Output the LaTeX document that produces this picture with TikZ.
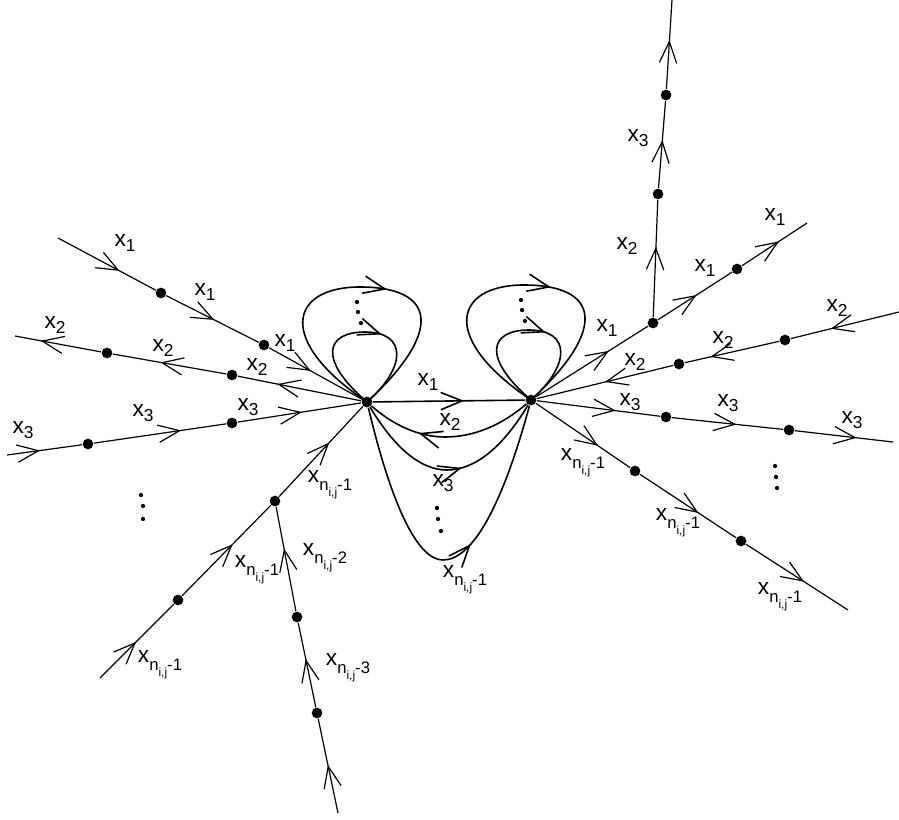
\documentclass[tikz,border=0pt]{standalone}
\usepackage{fontspec}
\setmainfont{Liberation Sans}
\usepackage{tikz}
\usetikzlibrary{arrows.meta,decorations.markings}

\newcommand{\xs}[1]{x\raisebox{-3.3pt}{\fontsize{13}{15}\selectfont #1}}
\newcommand{\xn}[1]{x\raisebox{-6pt}{\fontsize{12.5}{15}\selectfont
  n\raisebox{-4.5pt}{\fontsize{9}{10}\selectfont i,j}-#1}}

\tikzset{
 barb/.tip={Straight Barb[length=16pt,width=13pt]},
 vdot/.style={circle,fill,inner sep=0pt,minimum size=8pt},
 smalldot/.style={circle,fill,inner sep=0pt,minimum size=3.2pt},
 lab/.style={font=\fontsize{17}{20}\selectfont,inner sep=1pt},
 flow/.style={postaction={decorate},
   decoration={markings,mark=at position #1 with {\arrow{barb}}}},
 flow/.default=0.55
}

\begin{document}
\begin{tikzpicture}[x=0.75pt,y=-0.75pt,line width=0.9pt]
\useasboundingbox (0,0) rectangle (899,820);

% the two vertices
\node[vdot] (L) at (367,402) {};
\node[vdot] (R) at (531,400) {};

% left rays
\coordinate (a0) at (58,238);
\node[vdot] (a1) at (161,293) {};
\node[vdot] (a2) at (264,345) {};
\coordinate (b0) at (15,336);
\node[vdot] (b1) at (107,353) {};
\node[vdot] (b2) at (232,375) {};
\coordinate (c0) at (7,455);
\node[vdot] (c1) at (88,444) {};
\node[vdot] (c2) at (232,423) {};
\coordinate (d0) at (100,678);
\node[vdot] (d1) at (178,600) {};
\node[vdot] (d2) at (275,501) {};
\coordinate (e0) at (338,813);
\node[vdot] (e1) at (297,617) {};
\node[vdot] (e2) at (317,713) {};

\draw[flow=0.63] (a0) -- (a1);
\draw[flow=0.52] (a1) -- (a2);
\draw[flow=0.45] (a2) -- (L);
\draw[flow=0.68] (L) -- (b2);
\draw[flow=0.58] (b2) -- (b1);
\draw[flow=0.70] (b1) -- (b0);
\draw[flow=0.44] (c0) -- (c1);
\draw[flow=0.66] (c1) -- (c2);
\draw[flow=0.52] (c2) -- (L);
\draw[flow=0.49] (d0) -- (d1);
\draw[flow=0.57] (d1) -- (d2);
\draw[flow=0.60] (d2) -- (L);
\draw[flow=0.51] (e0) -- (e2);
\draw[flow=0.57] (e2) -- (e1);
\draw[flow=0.60] (e1) -- (d2);

% right rays
\node[vdot] (f1) at (653,323) {};
\node[vdot] (f2) at (737,269) {};
\coordinate (f0) at (807,223);
\node[vdot] (g1) at (658,194) {};
\node[vdot] (g2) at (666,95) {};
\coordinate (g0) at (672,0);
\coordinate (h0) at (899,312);
\node[vdot] (h1) at (679,364) {};
\node[vdot] (h2) at (785,340) {};
\node[vdot] (k1) at (666,417) {};
\node[vdot] (k2) at (789,430) {};
\coordinate (k0) at (893,442);
\node[vdot] (m1) at (635,471) {};
\node[vdot] (m2) at (741,541) {};
\coordinate (m0) at (848,610);

\draw[flow=0.65] (R) -- (f1);
\draw[flow=0.52] (f1) -- (f2);
\draw[flow=0.57] (f2) -- (f0);
\draw[flow=0.60] (f1) -- (g1);
\draw[flow=0.55] (g1) -- (g2);
\draw[flow=0.55] (g2) -- (g0);
\draw[flow=0.63] (h0) -- (h2);
\draw[flow=0.73] (h2) -- (h1);
\draw[flow=0.50] (h1) -- (R);
\draw[flow=0.64] (R) -- (k1);
\draw[flow=0.58] (k1) -- (k2);
\draw[flow=0.63] (k2) -- (k0);
\draw[flow=0.66] (R) -- (m1);
\draw[flow=0.61] (m1) -- (m2);
\draw[flow=0.57] (m2) -- (m0);

% edges between the vertices
\begin{scope}[line width=1.2pt]
\draw[flow=0.6] (L) -- (R);
\draw[flow=0.68] (R) .. controls (502,425) and (474,437) .. (445,437)
  .. controls (419,437) and (393,425) .. (L);
\draw[flow=0.56] (L) .. controls (394,447) and (420,470) .. (447,470)
  .. controls (475,470) and (503,447) .. (R);
\draw[flow=0.58] (L) .. controls (392,507) and (418,560) .. (443,560)
  .. controls (472,560) and (502,507) .. (R);
\end{scope}

% loops
\foreach \v in {L,R} {
 \begin{scope}[shift={(\v)},line width=1.2pt]
  \draw[flow=0.58] (0,0) .. controls (-92,-62) and (-77,-115) .. (-7,-115)
    .. controls (68,-115) and (78,-72) .. (0,0);
  \draw[flow=0.59] (0,0) .. controls (-49,-42) and (-42,-70) .. (-2,-70)
    .. controls (40,-70) and (40,-35) .. (0,0);
  \node[smalldot] (\v u1) at (-10,-100) {};
  \node[smalldot] (\v u2) at (-9,-90) {};
  \node[smalldot] (\v u3) at (-6,-79) {};
 \end{scope}
}

% vertical dots
\node[smalldot] (p1) at (141,495) {};
\node[smalldot] (p2) at (143,506) {};
\node[smalldot] (p3) at (143,519) {};
\node[smalldot] (q1) at (437,508) {};
\node[smalldot] (q2) at (438,519) {};
\node[smalldot] (q3) at (441,531) {};
\node[smalldot] (s1) at (775,466) {};
\node[smalldot] (s2) at (776,477) {};
\node[smalldot] (s3) at (777,488) {};

% labels
\node[lab] (la1) at (125,243) {\xs1};
\node[lab] (la2) at (205,292) {\xs1};
\node[lab] (la3) at (285,343) {\xs1};
\node[lab] (lb0) at (55,325) {\xs2};
\node[lab] (lb1) at (163,348) {\xs2};
\node[lab] (lb2) at (257,367) {\xs2};
\node[lab] (lc0) at (23,430) {\xs3};
\node[lab] (lc1) at (143,413) {\xs3};
\node[lab] (lc2) at (248,407) {\xs3};
\node[lab] (ld1) at (330,485) {\xn1};
\node[lab] (ld2) at (257,570) {\xn1};
\node[lab] (ld3) at (160,665) {\xn1};
\node[lab] (le1) at (325,558) {\xn2};
\node[lab] (le2) at (348,668) {\xn3};
\node[lab] (lm1) at (428,382) {\xs1};
\node[lab] (lm2) at (450,422) {\xs2};
\node[lab] (lm3) at (443,483) {\xs3};
\node[lab] (lm4) at (465,580) {\xn1};
\node[lab] (lf1) at (607,328) {\xs1};
\node[lab] (lf2) at (705,268) {\xs1};
\node[lab] (lf3) at (775,217) {\xs1};
\node[lab] (lg1) at (627,246) {\xs2};
\node[lab] (lg2) at (638,138) {\xs3};
\node[lab] (lh1) at (635,362) {\xs2};
\node[lab] (lh2) at (723,340) {\xs2};
\node[lab] (lh3) at (837,308) {\xs2};
\node[lab] (lk1) at (630,402) {\xs3};
\node[lab] (lk2) at (728,403) {\xs3};
\node[lab] (lk3) at (852,420) {\xs3};
\node[lab] (ln1) at (583,463) {\xn1};
\node[lab] (ln2) at (678,523) {\xn1};
\node[lab] (ln3) at (780,597) {\xn1};
\end{tikzpicture}
\end{document}
